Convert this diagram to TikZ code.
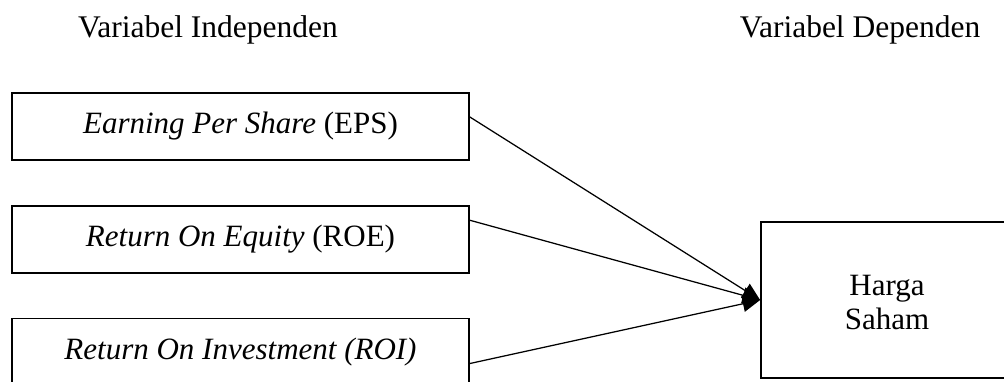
\documentclass[tikz,border=0pt]{standalone}
\usepackage{fontspec}
\setmainfont{Liberation Serif}
\usetikzlibrary{%
    arrows.meta,
    positioning
}
\tikzset{headarrow/.style = {-{Triangle[length=7pt,width=6.5pt]}, line width=.5pt}}
\tikzset{varbox/.style = {draw, line width=.7pt, minimum width=182.8pt, minimum height=26.8pt, inner sep=0pt, font=\fontsize{12.4}{13.5}\selectfont}}

\begin{document}
\begin{tikzpicture}[x=.4pt, y=-.4pt]
    \useasboundingbox (0,0) rectangle (1004,381);
    \clip (0,0) rectangle (1004,381);

    % headings
    \node[font=\fontsize{12.6}{13.5}\selectfont] (indep) at (208,30) {Variabel Independen};
    \node[font=\fontsize{12.6}{13.5}\selectfont] (dep)   at (860,30) {Variabel Dependen};

    % independent variables
    \node[varbox] (EPS) at (240.5,126.5) {\textit{Earning Per Share} (EPS)};
    \node[varbox] (ROE) [below=17.6pt of EPS] {\textit{Return On Equity} (ROE)};
    \node[varbox] (ROI) [below=17.6pt of ROE] {\raisebox{2pt}{\textit{Return On Investment (ROI)}}};

    % dependent variable
    \node[draw, line width=.7pt, minimum width=100.8pt, minimum height=62.4pt,
          font=\fontsize{12.4}{13.4}\selectfont] (HS) at (887,300)
        {\raisebox{-2.4pt}[\height][\depth]{\begin{tabular}{@{}c@{}}Harga\\Saham\end{tabular}}};

    % edges
    \foreach \Source/\Shift in {%
        EPS/3.8pt,
        ROE/7.6pt,
        ROI/-4.6pt%
        }
        \draw[headarrow] ([yshift=\Shift]\Source.east) -- (HS.west);
\end{tikzpicture}
\end{document}
